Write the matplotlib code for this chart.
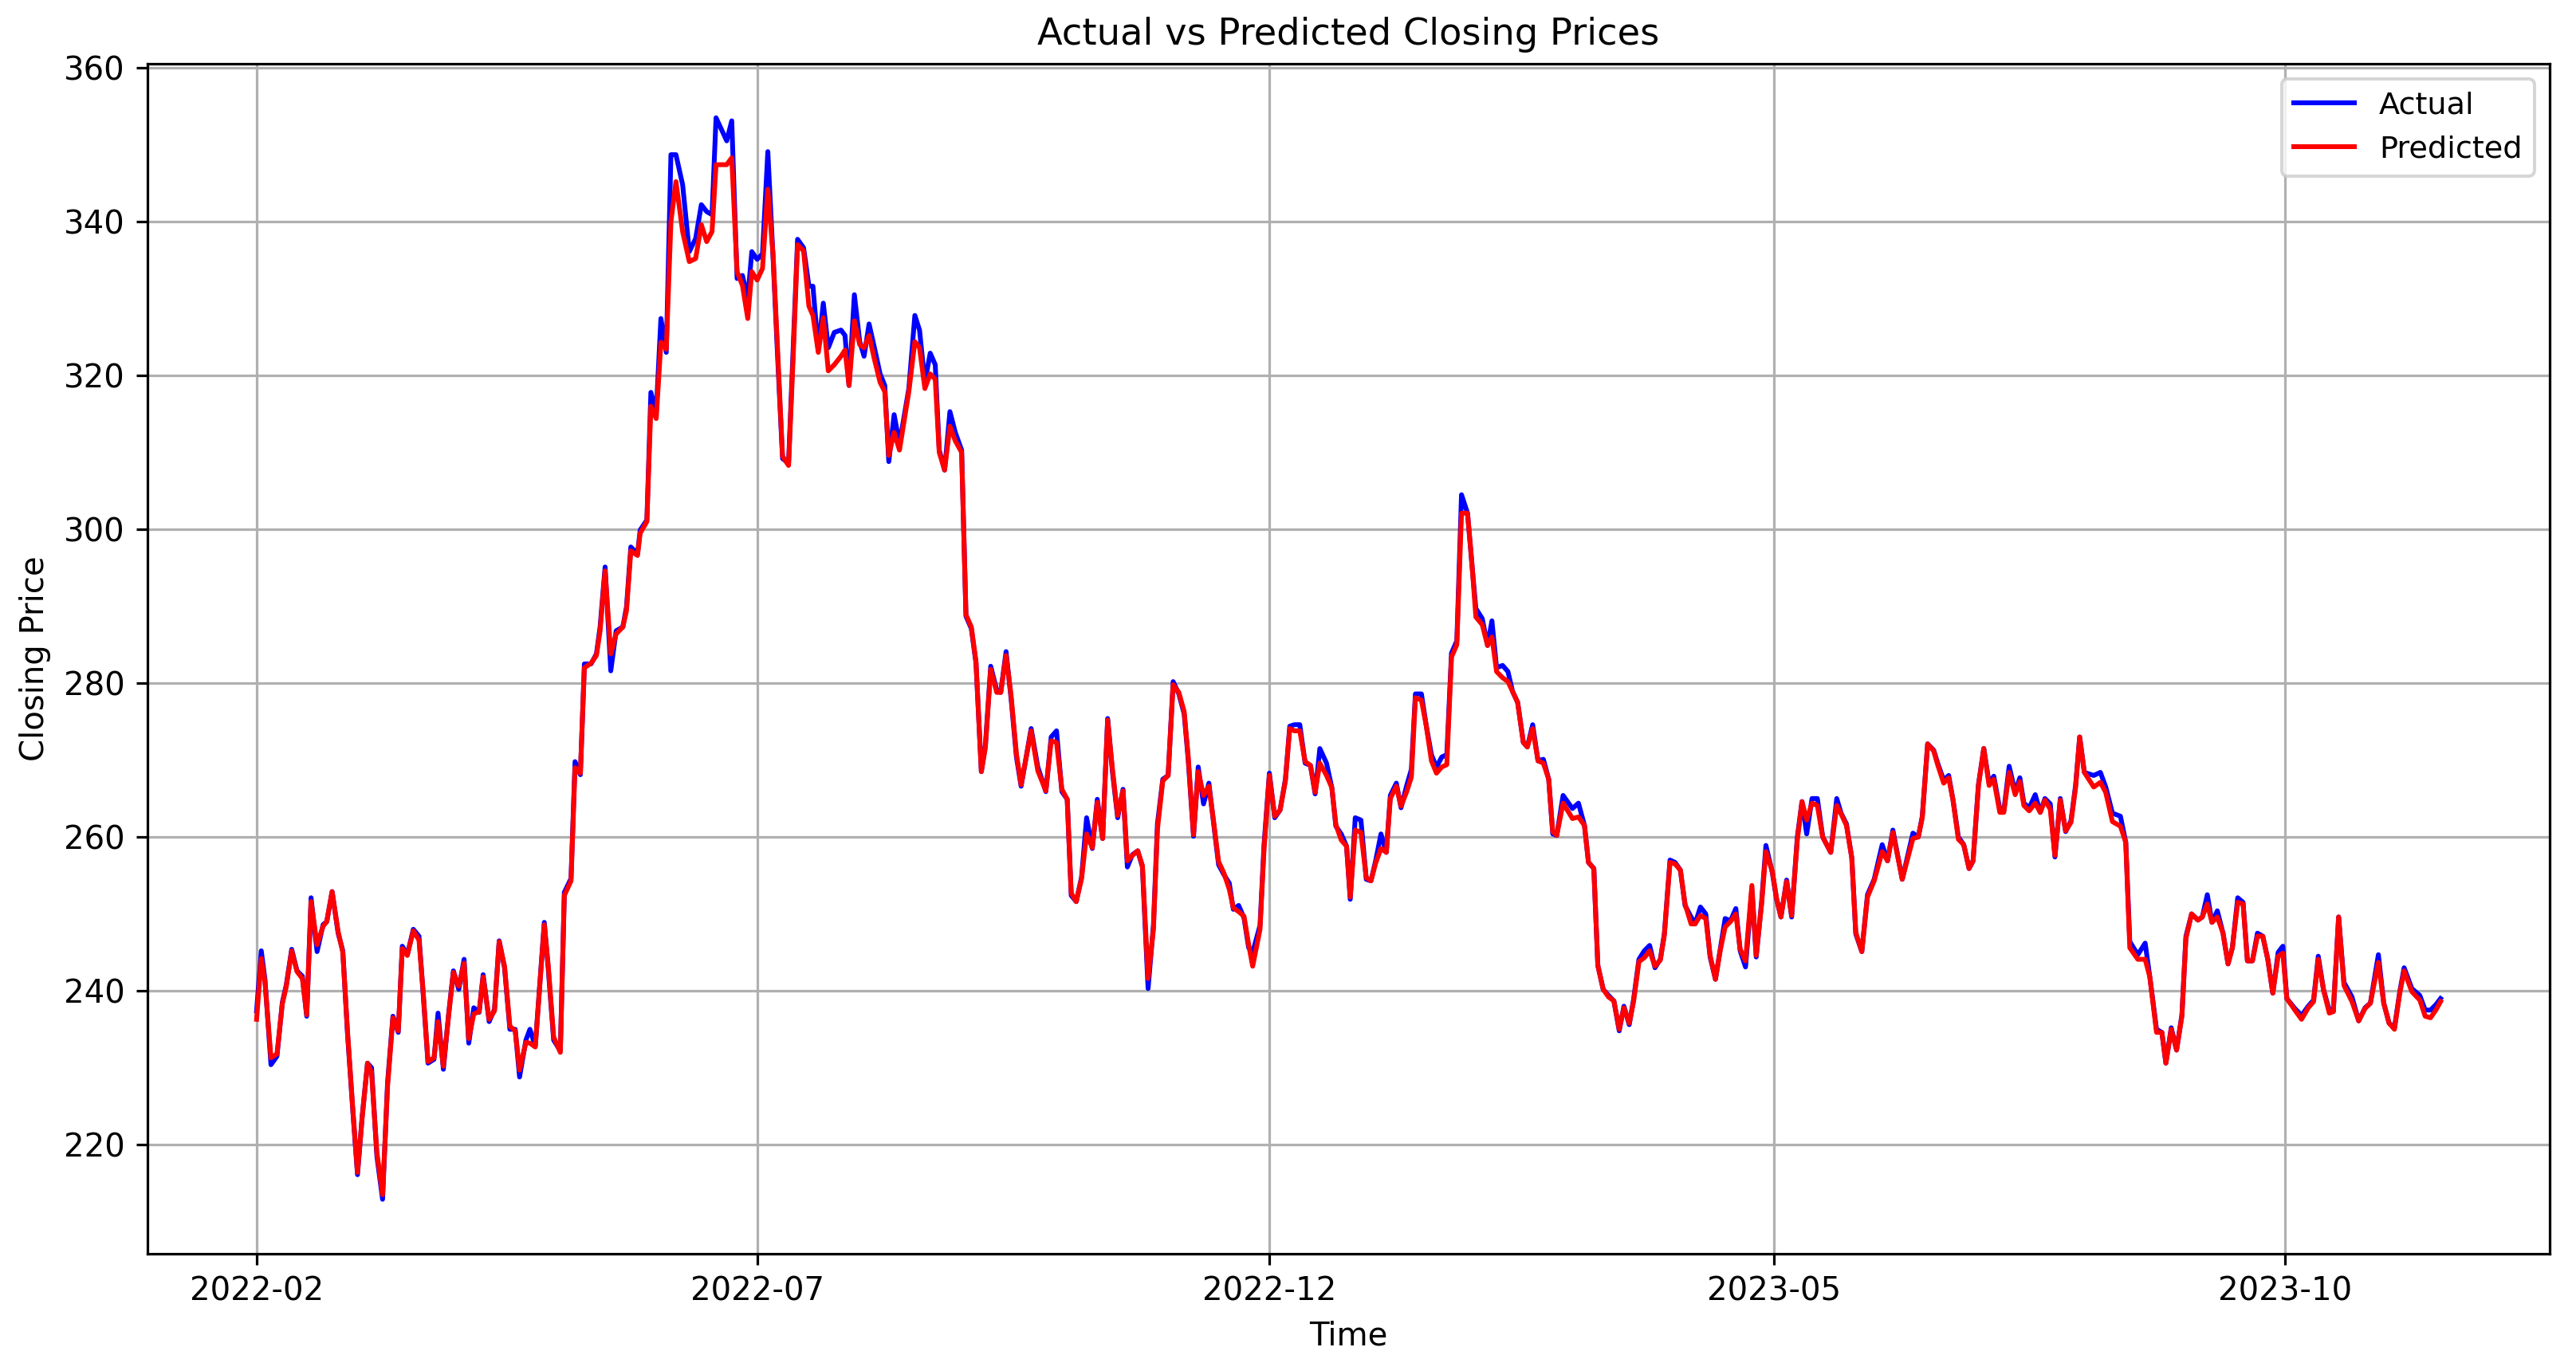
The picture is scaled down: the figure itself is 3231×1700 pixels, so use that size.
import matplotlib
matplotlib.use("Agg")
import matplotlib.pyplot as plt
import matplotlib.dates as mdates
import pandas as pd

# days after 2022-02-01
day_offset = [
    0.0, 1.4, 2.5, 4.3, 6.1, 7.7, 8.9, 10.5, 12.1, 13.7, 15.0, 16.3, 18.1, 19.9, 21.0, 22.6,
    24.4, 25.8, 27.2, 28.8, 30.2, 31.6, 33.2, 34.4, 36.0, 37.7, 39.2, 40.8, 42.4, 43.6, 45.1,
    46.9, 48.6, 49.9, 51.3, 53.1, 54.3, 55.9, 57.5, 58.9, 60.5, 62.1, 63.5, 65.0, 66.6, 67.8,
    69.6, 71.2, 72.6, 74.2,
    75.8, 77.4, 78.7, 80.6, 81.8, 83.4, 86.1, 87.3, 88.9, 90.9, 92.1, 94.1, 95.3, 96.9, 98.1,
    100.1, 101.7, 102.8, 104.3, 106.0, 107.6, 109.6, 110.7, 112.0, 114.0, 114.8, 116.8, 118.0,
    119.6, 121.0, 122.6, 124.0, 125.5, 127.5, 129.5, 131.4, 133.1, 134.7, 136.3, 137.5, 140.7,
    142.2, 143.8, 145.4, 147.0, 148.2,
    149.8, 151.4, 153.0, 154.6, 155.8, 157.4, 159.2, 160.6, 161.9, 163.7, 165.3, 166.5, 168.1,
    169.6, 171.1, 172.9, 174.9, 176.1, 177.3, 178.9, 180.5, 181.8, 183.3, 184.9, 186.6, 188.0,
    189.2, 190.8, 192.4, 195.2, 197.0, 198.4, 200.0, 201.6, 203.1, 204.3, 205.9, 207.5, 209.1,
    211.0, 212.3, 213.9, 215.3, 216.9, 218.1, 219.7, 221.5, 222.7, 224.3, 225.8, 227.4, 228.8,
    231.8, 233.8, 236.2, 237.8, 239.4, 241.0, 242.6, 243.8, 245.3, 246.9, 248.4, 250.1, 251.6,
    253.2, 254.7, 256.1, 257.7, 259.3, 260.6, 262.1, 263.7, 265.1, 266.8, 268.4, 269.6, 271.2,
    272.8, 274.3, 276.0, 277.6, 278.8, 280.4, 281.8, 283.4, 285.0, 286.3, 287.9, 289.5, 291.1,
    292.3, 293.9, 295.5, 296.9, 298.1, 300.3, 301.5, 303.1, 304.7, 306.3, 307.9, 309.2,
    310.6, 312.2, 313.8, 315.4, 316.8, 318.2, 320.2, 321.8, 323.0, 324.6, 326.2, 327.3, 328.8,
    330.5, 332.1, 333.5, 334.9, 336.5, 338.1, 339.3, 341.1, 342.5, 344.2, 345.6, 346.8, 348.6,
    350.0, 351.6, 353.1, 354.7, 356.2, 357.6, 359.2, 360.6, 362.4, 363.6, 364.9, 366.8, 368.4,
    369.7, 371.1, 372.9, 374.5, 375.9, 377.4, 379.1, 380.3, 381.9, 383.5, 385.1, 386.7,
    387.9, 389.1, 391.0, 393.8, 395.6, 397.4, 398.6, 400.2, 401.4, 403.0, 404.6, 406.2, 407.8,
    409.2, 410.8, 412.1, 413.7, 415.3, 416.9, 418.5, 420.1, 421.3, 423.0, 424.5, 426.1, 427.5,
    429.3, 430.5, 432.1, 433.7, 435.0, 436.6, 438.1, 439.5, 441.1, 442.7, 444.0, 445.6, 447.5,
    448.8, 450.4, 451.7, 453.6, 454.9, 456.2, 457.9, 459.4, 461.1, 462.5, 463.9, 465.5,
    467.1, 468.7, 471.1, 472.9, 474.2, 475.8, 477.4, 478.6, 480.4, 482.1, 484.1, 486.5, 488.1,
    489.7, 492.5, 495.7, 497.3, 498.5, 500.1, 501.9, 503.1, 504.9, 506.4, 507.7, 509.3, 510.9,
    512.5, 513.7, 515.3, 516.9, 518.5, 519.9, 521.7, 522.9, 524.5, 526.3, 527.7, 528.9, 530.5,
    532.3, 533.8, 535.2, 536.8, 538.2, 539.8, 541.4, 543.0, 544.4,
    545.6, 547.0, 549.8, 551.8, 553.4, 555.4, 557.8, 559.4, 560.6, 563.0, 565.2, 566.6, 568.6,
    570.2, 571.4, 573.0, 574.6, 576.2, 577.4, 579.1, 581.0, 582.3, 583.8, 585.2, 586.8, 588.5,
    590.0, 591.3, 592.9, 594.5, 595.8, 597.3, 598.8, 600.4, 601.9, 603.4, 605.0, 606.4, 607.6,
    610.0, 612.0, 614.0, 615.6, 617.0, 618.6, 620.3, 621.5, 623.1, 624.7, 627.1, 629.1, 631.0,
    632.6, 635.0, 636.6, 638.2, 639.8, 641.4, 642.7, 645.0, 647.4, 649.0, 650.6, 652.2, 653.6,
]

actual = [
    237.4, 245.2, 241.5, 230.4, 231.5, 238.5, 240.8, 245.4, 242.6, 241.9, 236.7, 252.1, 245.1, 248.6, 249.0, 252.9,
    247.5, 245.2, 234.5, 224.4, 216.1, 223.7, 230.6, 230.0, 218.5, 212.9, 228.1, 236.7, 234.6, 245.8, 244.7,
    248.0, 247.1, 239.3, 230.6, 231.1, 237.1, 229.8, 237.1, 242.6, 240.2, 244.1, 233.2, 237.8, 237.2, 242.1,
    236.0, 237.6, 246.5, 243.0,
    235.0, 235.0, 228.8, 233.6, 235.0, 232.8, 248.9, 242.8, 233.6, 232.2, 252.8, 254.6, 269.8, 268.1, 282.5,
    282.5, 283.8, 287.3, 295.1, 281.6, 286.8, 287.3, 289.9, 297.7, 296.8, 299.9, 301.2, 317.8,
    315.2, 327.4, 323.0, 348.7, 348.7, 344.8, 336.1, 337.8, 342.2, 341.3, 340.9, 353.5, 350.5,
    353.1, 332.6, 333.0, 330.0, 336.1,
    335.1, 335.8, 349.1, 335.0, 323.6, 309.2, 308.6, 323.6, 337.7, 336.6, 331.6, 331.6, 323.3,
    329.4, 323.6, 325.6, 325.9, 325.2, 318.7, 330.5, 324.4, 322.5, 326.7, 323.6, 320.2, 318.7,
    308.8, 314.9, 311.1, 318.3, 327.8, 325.9, 319.1, 322.9, 321.4, 310.3, 307.7, 315.3, 312.6,
    310.3, 288.7, 287.1, 282.6, 268.5, 271.9, 282.2, 279.1, 278.8, 284.1, 278.0, 270.4, 266.6,
    274.1, 269.1, 265.9, 273.0, 273.8, 265.9, 264.9, 252.4, 251.6, 254.8, 262.5, 258.5, 264.9,
    259.8, 275.4, 268.6, 262.5, 266.2, 256.1, 257.7, 258.2, 256.1, 240.3, 248.5, 261.7, 267.5,
    268.0, 280.2, 278.6, 276.0, 270.1, 260.1, 269.1, 264.3, 267.0, 262.2, 256.4, 255.1, 254.0,
    250.6, 251.1, 249.5, 245.6, 245.0, 248.5, 259.0, 268.3, 262.5, 263.5, 267.5, 274.4,
    274.6, 274.6, 269.6, 269.3, 265.6, 271.5, 269.6, 266.4, 261.4, 260.4, 258.8, 251.9, 262.5,
    262.2, 254.5, 254.3, 256.9, 260.4, 258.0, 265.4, 267.0, 263.8, 266.7, 268.8, 278.6, 278.6,
    274.6, 270.7, 269.1, 270.4, 270.7, 283.9, 285.5, 304.5, 302.1, 296.0, 289.7, 288.4, 284.9,
    288.1, 282.0, 282.3, 281.5, 278.9, 277.5, 272.3, 271.7, 274.6, 269.9, 270.1, 267.5,
    260.4, 260.2, 265.4, 263.7, 264.4, 261.5, 256.7, 255.9, 243.3, 240.2, 239.4, 238.7, 234.8,
    238.0, 235.6, 238.9, 244.1, 245.2, 245.9, 243.0, 244.1, 247.4, 257.0, 256.7, 255.7, 251.1,
    249.6, 248.7, 250.9, 250.0, 244.4, 241.5, 245.6, 249.4, 249.1, 250.7, 245.2, 243.1, 253.2,
    244.4, 251.5, 258.9, 255.4, 251.9, 249.6, 254.4, 249.6, 260.0, 264.6, 260.4, 265.0,
    265.0, 260.0, 258.0, 265.0, 263.1, 261.7, 257.3, 247.4, 245.1, 252.5, 254.5, 259.0, 256.9,
    260.9, 254.5, 260.5, 260.0, 262.7, 272.1, 271.3, 269.6, 267.4, 268.0, 264.8, 260.0, 259.0,
    255.9, 256.9, 266.8, 271.5, 267.0, 267.9, 263.6, 263.4, 269.2, 265.8, 267.7, 264.4, 263.8,
    265.5, 263.2, 265.0, 264.3, 257.4, 265.0, 260.7, 262.1, 266.8,
    273.0, 268.4, 268.0, 268.4, 266.5, 263.1, 262.7, 259.3, 246.4, 244.7, 246.2, 241.8, 235.0,
    234.6, 230.6, 235.2, 232.3, 236.9, 247.1, 250.0, 249.2, 249.6, 252.5, 248.9, 250.4, 247.5,
    243.5, 245.6, 252.1, 251.5, 243.9, 243.9, 247.5, 247.1, 244.1, 239.7, 245.0, 245.8, 239.0,
    237.7, 236.8, 238.0, 238.8, 244.5, 240.1, 237.5, 237.3, 249.6, 241.1, 239.2, 236.1, 237.8,
    238.4, 244.7, 238.4, 235.8, 235.2, 239.9, 243.0, 240.3, 239.4, 237.5, 237.5, 238.2, 239.0,
]

predicted = [
    236.3, 244.2, 241.2, 231.3, 231.8, 238.3, 240.6, 245.2, 242.5, 241.6, 236.9, 251.6, 246.0, 248.4, 249.0, 252.9,
    247.7, 245.0, 234.8, 224.6, 216.4, 223.5, 230.6, 229.4, 219.0, 213.5, 227.6, 236.5, 234.8, 245.5, 244.6,
    247.8, 246.6, 239.6, 230.8, 231.3, 236.0, 230.2, 236.9, 242.4, 240.6, 243.6, 233.8, 237.0, 237.3, 241.8,
    236.3, 237.4, 246.4, 243.2,
    235.4, 234.8, 229.7, 233.3, 233.2, 232.7, 248.6, 243.2, 234.0, 232.0, 252.4, 254.3, 269.0, 268.3, 282.0,
    282.6, 283.6, 286.8, 294.6, 283.8, 286.4, 287.3, 289.4, 297.2, 296.6, 299.5, 301.0, 316.0,
    314.4, 324.3, 323.4, 340.0, 345.2, 338.7, 334.8, 335.2, 339.6, 337.4, 338.7, 347.4, 347.4,
    348.3, 333.5, 331.7, 327.4, 333.5,
    332.4, 333.9, 344.2, 335.5, 324.5, 309.5, 308.3, 322.5, 337.0, 336.2, 329.0, 327.8, 323.0,
    327.5, 320.6, 321.4, 322.5, 323.3, 318.7, 327.1, 324.0, 323.6, 325.2, 322.1, 319.1, 317.9,
    309.6, 312.6, 310.3, 317.9, 324.4, 323.6, 318.3, 320.2, 319.5, 310.0, 307.7, 313.4, 311.5,
    310.0, 288.9, 287.3, 282.8, 268.5, 271.6, 281.8, 278.8, 278.8, 283.6, 278.4, 270.8, 266.8,
    273.8, 268.6, 266.0, 272.5, 272.3, 266.2, 264.9, 252.7, 251.6, 254.6, 260.4, 258.6, 264.5,
    259.8, 275.2, 269.0, 262.8, 266.0, 256.9, 257.6, 258.2, 256.3, 241.6, 248.0, 261.0, 267.3,
    268.0, 279.8, 278.8, 276.3, 270.5, 260.3, 268.5, 265.4, 266.6, 262.4, 256.8, 255.3, 253.2,
    250.8, 250.3, 249.7, 246.0, 243.2, 248.0, 258.4, 268.0, 262.7, 263.5, 267.3, 274.1,
    273.8, 273.8, 269.8, 269.3, 265.8, 269.6, 268.0, 266.4, 261.6, 259.6, 258.8, 252.2, 260.9,
    260.6, 254.7, 254.3, 256.6, 258.5, 258.0, 265.0, 266.6, 264.0, 265.9, 267.8, 278.1, 277.8,
    274.6, 269.9, 268.3, 269.1, 269.4, 283.4, 285.0, 302.1, 302.1, 296.2, 288.6, 287.6, 284.9,
    286.0, 281.5, 280.7, 280.2, 278.9, 277.5, 272.3, 271.7, 274.1, 269.9, 269.6, 267.5,
    260.7, 260.2, 264.4, 262.4, 262.6, 261.5, 256.7, 255.9, 243.3, 240.2, 239.2, 238.7, 235.0,
    237.8, 235.8, 238.6, 243.8, 244.3, 245.2, 243.2, 244.0, 247.2, 256.7, 256.5, 255.7, 251.3,
    248.7, 248.7, 249.8, 249.4, 244.6, 241.5, 245.4, 248.3, 249.0, 250.0, 245.4, 243.9, 253.7,
    244.6, 251.2, 258.1, 255.6, 252.0, 249.6, 254.2, 249.8, 259.6, 264.6, 262.2, 264.4,
    264.1, 260.0, 258.0, 264.1, 263.0, 261.5, 257.3, 247.6, 245.1, 252.2, 254.3, 258.1, 256.9,
    260.6, 254.5, 259.8, 260.0, 262.5, 272.1, 271.2, 269.4, 267.0, 267.7, 264.8, 259.7, 259.0,
    255.9, 256.9, 266.6, 271.5, 266.7, 267.5, 263.2, 263.2, 268.4, 265.5, 267.2, 264.1, 263.4,
    264.4, 263.2, 264.8, 263.6, 257.6, 264.8, 260.8, 261.9, 266.5,
    273.0, 268.4, 266.5, 267.1, 265.8, 262.0, 261.4, 259.3, 245.6, 244.1, 244.1, 241.8, 234.6,
    234.6, 230.6, 235.0, 232.3, 236.7, 246.8, 250.0, 249.2, 249.6, 251.3, 248.9, 249.6, 247.5,
    243.5, 245.6, 251.5, 251.3, 243.9, 243.9, 247.1, 247.1, 244.1, 239.7, 244.5, 244.9, 239.0,
    237.5, 236.3, 237.8, 238.6, 244.1, 240.1, 237.1, 237.3, 249.6, 240.7, 238.6, 236.1, 237.7,
    238.4, 243.7, 238.4, 235.8, 235.0, 239.7, 242.6, 239.9, 238.8, 236.7, 236.5, 237.5, 238.6,
]

tick_dates = ["2022-02-01", "2022-07-01", "2022-12-01", "2023-05-01", "2023-10-01"]

dates = pd.Timestamp("2022-02-01") + pd.to_timedelta(day_offset, unit="D")

DPI = 290
fig, ax = plt.subplots(figsize=(3232 / DPI, 1700 / DPI), dpi=DPI)
fig.subplots_adjust(left=0.0572, right=0.9895, top=0.953, bottom=0.075)

ax.plot(dates, actual, color="blue", label="Actual")
ax.plot(dates, predicted, color="red", label="Predicted")

ax.set_xticks(pd.to_datetime(tick_dates))
ax.xaxis.set_major_formatter(mdates.DateFormatter("%Y-%m"))

ax.set_title("Actual vs Predicted Closing Prices", fontsize=11.5)
ax.set_xlabel("Time")
ax.set_ylabel("Closing Price")
ax.legend(loc="upper right", fontsize=9.5)
ax.grid(True)

fig.savefig("out.png", dpi=DPI)
